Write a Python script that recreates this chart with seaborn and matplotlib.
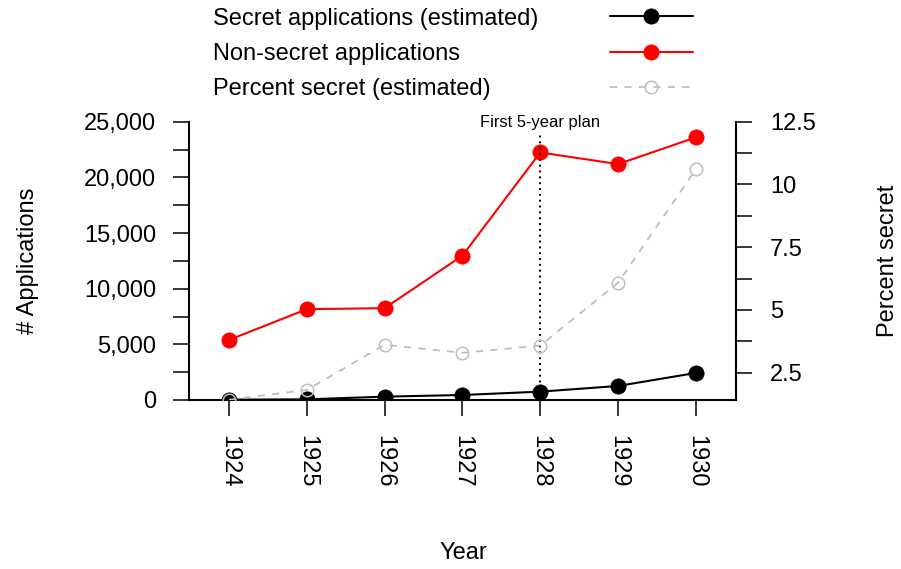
import numpy as np
import pandas as pd
import matplotlib
matplotlib.use('Agg')
import matplotlib.pyplot as plt
import seaborn as sns
from matplotlib.ticker import MultipleLocator, FuncFormatter
import matplotlib.transforms as mtransforms

# ---- data ----
years = [1924, 1925, 1926, 1927, 1928, 1929, 1930]
secret = [30, 60, 300, 450, 750, 1260, 2430]
nonsecret = [5400, 8160, 8250, 12970, 22240, 21190, 23590]
percent = [1.42, 1.81, 3.61, 3.29, 3.58, 6.08, 10.6]
legend_labels = ['Secret applications (estimated)',
                 'Non-secret applications',
                 'Percent secret (estimated)']
plan_year = 1928
plan_label = 'First 5-year plan'

sns.set_style('ticks')
plt.rcParams['font.family'] = ['Liberation Sans', 'DejaVu Sans']
plt.rcParams.update({'text.color': 'black', 'axes.labelcolor': 'black',
                     'xtick.color': 'black', 'ytick.color': 'black',
                     'axes.edgecolor': 'black'})

W, H = 901, 569
fig = plt.figure(figsize=(W / 100, H / 100), dpi=100)
x0, x1, y0, y1 = 189.4, 735.5, 121.7, 400.0
ax = fig.add_axes([x0 / W, 1 - y1 / H, (x1 - x0) / W, (y1 - y0) / H])
ax2 = ax.twinx()

df = pd.DataFrame({'year': years, 'secret': secret,
                   'nonsecret': nonsecret, 'percent': percent})

sns.lineplot(data=df, x='year', y='secret', ax=ax, color='black', lw=1.5,
             marker='o', markersize=11, markeredgecolor='black',
             markeredgewidth=0.5, legend=False)
h1 = ax.lines[-1]
sns.lineplot(data=df, x='year', y='nonsecret', ax=ax, color='#ff0000', lw=1.5,
             marker='o', markersize=11, markeredgecolor='#ff0000',
             markeredgewidth=0.5, legend=False)
h2 = ax.lines[-1]
sns.lineplot(data=df, x='year', y='percent', ax=ax2, color='#bebebe', lw=1.3,
             marker='o', markersize=9, markerfacecolor='none',
             markeredgecolor='#bebebe', markeredgewidth=1.1, legend=False)
h3 = ax2.lines[-1]
h3.set_linestyle((0, (4, 4)))

ax.axvline(plan_year, ymin=0, ymax=0.961, color='black', ls=(0, (1, 2)), lw=1.4)
trans = mtransforms.blended_transform_factory(ax.transData, ax.transAxes)
ax.text(plan_year, 0.982, plan_label, transform=trans, ha='center',
        va='baseline', fontsize=11.9)

ax.set_xlim(1923.49, 1930.51)
ax.set_ylim(0, 25000)
ax2.set_ylim(1.41, 12.5)

ax.set_xticks(years)
ax.set_xticklabels([str(y) for y in years], rotation=270)
ax.yaxis.set_major_locator(MultipleLocator(5000))
ax.yaxis.set_minor_locator(MultipleLocator(2500))
ax.yaxis.set_major_formatter(FuncFormatter(lambda v, p: f'{int(round(v)):,}'))
ax2.yaxis.set_major_locator(MultipleLocator(2.5))
ax2.yaxis.set_minor_locator(MultipleLocator(1.25))
ax2.yaxis.set_major_formatter(FuncFormatter(lambda v, p: f'{v:g}'))

for a in (ax, ax2):
    a.tick_params(axis='both', which='both', direction='out', length=11.5,
                  width=1.1, labelsize=17, pad=12.5, color='black',
                  labelcolor='black')
    a.grid(False)
ax.tick_params(axis='x', pad=14)
ax2.tick_params(axis='y', pad=13.5)

for s in ['top', 'right']:
    ax.spines[s].set_visible(False)
for s in ['top', 'left', 'bottom']:
    ax2.spines[s].set_visible(False)
for s in ['left', 'bottom']:
    ax.spines[s].set_linewidth(1.5)
ax2.spines['right'].set_linewidth(1.5)

ax.set_xlabel('Year', fontsize=17)
ax.set_ylabel('# Applications', fontsize=17)
ax2.set_ylabel('Percent secret', fontsize=17)
ax.xaxis.set_label_coords((463 - x0) / (x1 - x0), -(553 - y1) / (y1 - y0))
ax.xaxis.label.set_va('center')
ax.yaxis.set_label_coords((28 - x0) / (x1 - x0), 0.5)
ax.yaxis.label.set_va('center')
ax2.yaxis.set_label_coords((888 - x0) / (x1 - x0), 0.5)
ax2.yaxis.label.set_va('center')
ax2.yaxis.label.set_rotation(90)

# legend: symbols via matplotlib legend, labels left-aligned as figure text
fig.legend(handles=[h1, h2, h3], labels=['', '', ''], loc='center left',
           bbox_to_anchor=(610 / W, 1 - 53.8 / H), frameon=False,
           markerfirst=False, handlelength=3.5, handletextpad=0,
           labelspacing=0.59, borderpad=0, borderaxespad=0, fontsize=17)
for lab, yb in zip(legend_labels, [25.0, 59.7, 94.5]):
    fig.text(213 / W, 1 - yb / H, lab, ha='left', va='baseline', fontsize=17)

fig.savefig('out.png', dpi=100)
